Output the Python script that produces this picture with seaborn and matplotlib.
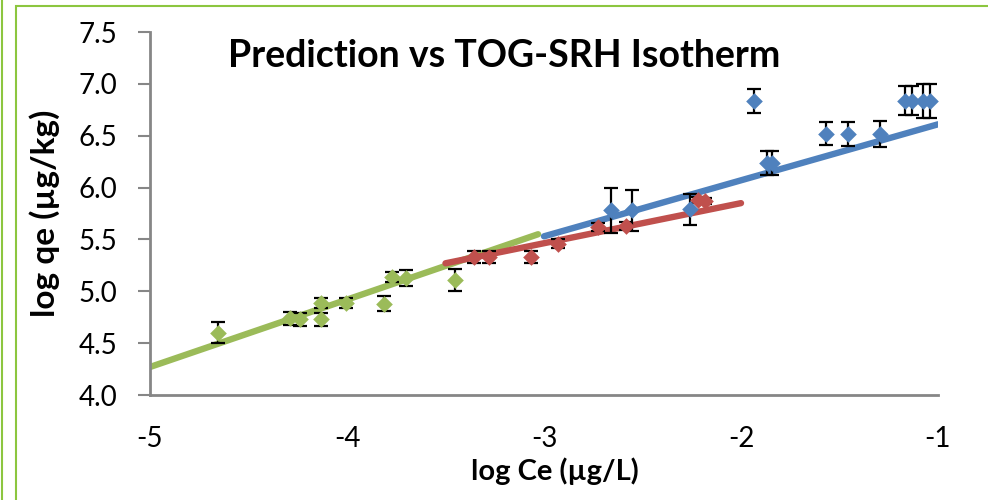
import matplotlib
matplotlib.use('Agg')
import matplotlib.pyplot as plt
import seaborn as sns
from matplotlib.patches import Rectangle
from matplotlib.lines import Line2D

# data
green_x = [-4.655, -4.289, -4.239, -4.132, -4.132, -4.005, -3.81, -3.77, -3.70, -3.452]
green_y = [4.60, 4.74, 4.73, 4.89, 4.73, 4.89, 4.88, 5.14, 5.13, 5.11]
green_err = [0.10, 0.065, 0.065, 0.05, 0.065, 0.05, 0.07, 0.05, 0.075, 0.105]

red_x = [-3.355, -3.278, -3.068, -2.929, -2.724, -2.584, -2.217, -2.183]
red_y = [5.33, 5.33, 5.33, 5.46, 5.62, 5.63, 5.88, 5.87]
red_err = [0.055, 0.055, 0.06, 0.045, 0.04, 0.04, 0.03, 0.03]

blue_x = [-2.66, -2.555, -2.259, -1.934, -1.87, -1.845, -1.569, -1.459, -1.294,
          -1.168, -1.133, -1.075, -1.041]
blue_y = [5.78, 5.78, 5.79, 6.835, 6.235, 6.235, 6.52, 6.52, 6.52,
          6.835, 6.835, 6.835, 6.835]
blue_err = [0.22, 0.20, 0.15, 0.115, 0.115, 0.115, 0.11, 0.115, 0.125,
            0.14, 0.14, 0.16, 0.16]

# fitted isotherm lines (end points)
green_line_x = [-5.0, -3.03]
green_line_y = [4.27, 5.55]
red_line_x = [-3.5, -2.0]
red_line_y = [5.27, 5.85]
blue_line_x = [-3.0, -1.0]
blue_line_y = [5.53, 6.61]

x_ticks = [-5, -4, -3, -2, -1]
y_ticks = [4.0, 4.5, 5.0, 5.5, 6.0, 6.5, 7.0, 7.5]

GREEN = '#9BBB59'
RED = '#C0504D'
BLUE = '#4F81BD'
AXIS_GREY = '#868686'

sns.set_theme(style='white')
plt.rcParams['font.family'] = ['Lato', 'DejaVu Sans']

fig = plt.figure(figsize=(9.88, 5.0), dpi=100)
ax = fig.add_axes([150 / 988, 1 - 395 / 500, (938 - 150) / 988, (395 - 32) / 500])

series = [
    (green_x, green_y, green_err, green_line_x, green_line_y, GREEN),
    (red_x, red_y, red_err, red_line_x, red_line_y, RED),
    (blue_x, blue_y, blue_err, blue_line_x, blue_line_y, BLUE),
]

for px, py, perr, lx, ly, col in series:
    sns.lineplot(x=lx, y=ly, color=col, linewidth=4.6, ax=ax,
                 solid_capstyle='round', zorder=2)
    ax.errorbar(px, py, yerr=perr, fmt='none', ecolor='black', elinewidth=1.6,
                capsize=4.8, capthick=1.6, zorder=3)
    sns.scatterplot(x=px, y=py, marker='D', s=72, color=col, linewidth=0,
                    ax=ax, zorder=4)

ax.set_xlim(-5, -1)
ax.set_ylim(4.0, 7.5)
ax.set_xticks(x_ticks)
ax.set_xticklabels([str(t) for t in x_ticks])
ax.set_yticks(y_ticks)
ax.set_yticklabels([f'{t:.1f}' for t in y_ticks])

for side in ['top', 'right']:
    ax.spines[side].set_visible(False)
for side in ['left', 'bottom']:
    ax.spines[side].set_color(AXIS_GREY)
    ax.spines[side].set_linewidth(2)

ax.tick_params(axis='y', left=True, length=8.5, width=1.5, color=AXIS_GREY,
               pad=15, labelsize=20, labelcolor='black')
ax.tick_params(axis='x', bottom=False, length=0, pad=22, labelsize=20,
               labelcolor='black')

ax.set_xlabel('log Ce (µg/L)', fontsize=21, fontweight='bold', color='black')
ax.set_ylabel('log qe (µg/kg)', fontsize=24, fontweight='bold', color='black')
ax.xaxis.set_label_coords(0.514, -0.172)
ax.yaxis.set_label_coords(-0.114, 0.5)
ax.text(0.45, 0.904, 'Prediction vs TOG-SRH Isotherm', transform=ax.transAxes,
        ha='center', va='baseline', fontsize=27, fontweight='bold',
        color='black')

# green frame around the chart
FRAME = '#8CC63F'
fig.add_artist(Line2D([2 / 988, 2 / 988], [0, 1], color=FRAME, lw=1.5,
                      transform=fig.transFigure))
fig.add_artist(Rectangle((16 / 988, -0.1), 1.0, 1 - 6 / 500 + 0.1, fill=False,
                         edgecolor=FRAME, lw=1.5, transform=fig.transFigure))

fig.savefig('out.png', dpi=100)
plt.close(fig)
